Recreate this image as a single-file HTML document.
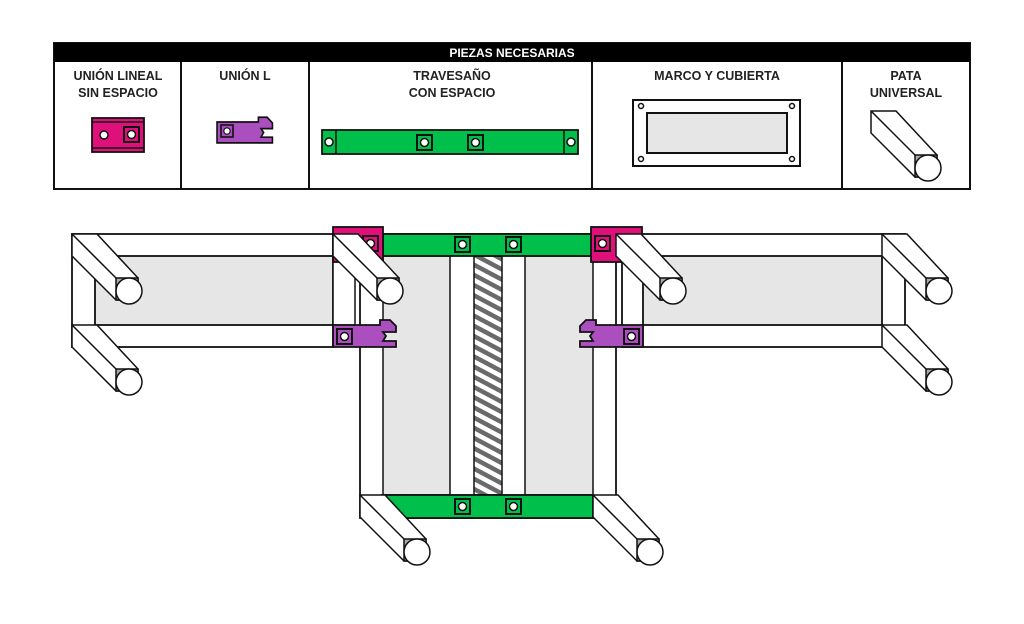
<!DOCTYPE html>
<html><head><meta charset="utf-8"><style>
html,body{margin:0;padding:0;background:#fff;}
svg{display:block;}
text{font-family:"Liberation Sans",sans-serif;font-weight:bold;font-size:12.5px;fill:#222;}
</style></head><body>
<svg width="1024" height="624" viewBox="0 0 1024 624" xmlns="http://www.w3.org/2000/svg">
<defs>
<pattern id="h" width="9" height="9" patternUnits="userSpaceOnUse" patternTransform="rotate(28)">
<rect width="9" height="9" fill="#fff"/><rect width="9" height="4.5" fill="#6a6a6a"/>
</pattern>
<g id="leg">
<polygon points="0,0 25,0 66,44 66,66 44,66 0,22" fill="#fff" stroke="#111" stroke-width="1.5"/>
<line x1="0" y1="0" x2="44" y2="44" stroke="#111" stroke-width="1.5"/>
<rect x="44" y="44" width="22" height="22" fill="#aaa" stroke="#111" stroke-width="1.5"/>
<circle cx="57" cy="57" r="13" fill="#fff" stroke="#111" stroke-width="1.5"/>
</g>
<g id="sq"><rect x="0" y="0" width="15" height="15" fill="none" stroke="#111" stroke-width="2"/><circle cx="7.5" cy="7.5" r="4" fill="#fff" stroke="#111" stroke-width="1.5"/></g>
<g id="lp"><path d="M0,0 H47 V-5 H57 L63,1 V7 H50 L53,11 L50,16 H63 V22 H0 Z" fill="#aa4fbd" stroke="#111" stroke-width="1.8"/></g>
</defs>
<!-- table -->
<rect x="54" y="43" width="916" height="146" fill="#fff" stroke="#111" stroke-width="2"/>
<rect x="54" y="43" width="916" height="19" fill="#000"/>
<text x="512" y="57" text-anchor="middle" style="fill:#fff;font-size:12px">PIEZAS NECESARIAS</text>
<g stroke="#111" stroke-width="2"><line x1="181" y1="62" x2="181" y2="189"/><line x1="309" y1="62" x2="309" y2="189"/><line x1="592" y1="62" x2="592" y2="189"/><line x1="842" y1="62" x2="842" y2="189"/></g>
<text x="118" y="80" text-anchor="middle">UNIÓN LINEAL</text>
<text x="118" y="97" text-anchor="middle">SIN ESPACIO</text>
<text x="245" y="80" text-anchor="middle">UNIÓN L</text>
<text x="452" y="80" text-anchor="middle">TRAVESAÑO</text>
<text x="452" y="97" text-anchor="middle">CON ESPACIO</text>
<text x="717" y="80" text-anchor="middle">MARCO Y CUBIERTA</text>
<text x="906" y="80" text-anchor="middle">PATA</text>
<text x="906" y="97" text-anchor="middle">UNIVERSAL</text>
<!-- magenta piece -->
<rect x="92" y="118" width="52" height="34" fill="#e0107a" stroke="#111" stroke-width="1.8"/>
<line x1="92" y1="122" x2="144" y2="122" stroke="#111" stroke-width="1.5"/><line x1="92" y1="148" x2="144" y2="148" stroke="#111" stroke-width="1.5"/>
<circle cx="104" cy="135" r="4" fill="#fff" stroke="#111" stroke-width="1.5"/>
<use href="#sq" x="124" y="127"/>
<!-- purple piece -->
<g transform="translate(217,122) scale(0.88,0.95)"><use href="#lp"/></g>
<use href="#sq" x="221" y="125" transform="translate(221,125) scale(0.8) translate(-221,-125)"/>
<!-- green piece -->
<rect x="322" y="130" width="256" height="24" fill="#00c04b" stroke="#111" stroke-width="1.8"/>
<line x1="336" y1="130" x2="336" y2="154" stroke="#111" stroke-width="1.5"/><line x1="564" y1="130" x2="564" y2="154" stroke="#111" stroke-width="1.5"/>
<circle cx="329" cy="142" r="4" fill="#fff" stroke="#111" stroke-width="1.5"/><circle cx="571" cy="142" r="4" fill="#fff" stroke="#111" stroke-width="1.5"/>
<use href="#sq" x="417" y="135"/><use href="#sq" x="468" y="135"/>
<!-- marco -->
<rect x="633" y="100" width="167" height="66" fill="#fff" stroke="#111" stroke-width="2"/>
<rect x="647" y="113" width="140" height="40" fill="#e6e6e6" stroke="#111" stroke-width="2"/>
<g fill="#fff" stroke="#111" stroke-width="1.5"><circle cx="641" cy="106" r="2.5"/><circle cx="792" cy="106" r="2.5"/><circle cx="641" cy="159" r="2.5"/><circle cx="792" cy="159" r="2.5"/></g>
<use href="#leg" x="871" y="111"/>
<!-- left frame -->
<rect x="72" y="234" width="261" height="113" fill="#fff" stroke="#111" stroke-width="1.8"/>
<rect x="95" y="256" width="238" height="69" fill="#e6e6e6" stroke="#111" stroke-width="1.8"/>
<rect x="333" y="256" width="22" height="69" fill="#fff" stroke="#111" stroke-width="1.5"/>
<!-- right frame -->
<rect x="622" y="234" width="283" height="113" fill="#fff" stroke="#111" stroke-width="1.8"/>
<rect x="643" y="256" width="239" height="69" fill="#e6e6e6" stroke="#111" stroke-width="1.8"/>
<line x1="643" y1="325" x2="643" y2="347" stroke="#111" stroke-width="1.5"/>
<!-- central frame -->
<rect x="360" y="234" width="256" height="284" fill="#fff" stroke="#111" stroke-width="1.8"/>
<rect x="383" y="256" width="67" height="239" fill="#e6e6e6" stroke="#111" stroke-width="1.5"/>
<rect x="525" y="256" width="68" height="239" fill="#e6e6e6" stroke="#111" stroke-width="1.5"/>
<rect x="474" y="256" width="28" height="239" fill="url(#h)" stroke="#111" stroke-width="1.5"/>
<line x1="383" y1="495" x2="593" y2="495" stroke="#111" stroke-width="1.5"/>
<rect x="383" y="234" width="210" height="22" fill="#00c04b" stroke="#111" stroke-width="1.8"/>
<use href="#sq" x="455" y="237"/><use href="#sq" x="506" y="237"/>
<polygon points="383,495 593,495 593,518 406,518" fill="#00c04b" stroke="#111" stroke-width="1.8"/>
<use href="#sq" x="455" y="499"/><use href="#sq" x="506" y="499"/>
<!-- magenta joins -->
<rect x="333" y="227" width="50" height="35" fill="#e0107a" stroke="#111" stroke-width="1.8"/>
<use href="#sq" x="363" y="236"/>
<rect x="591" y="227" width="51" height="35" fill="#e0107a" stroke="#111" stroke-width="1.8"/>
<use href="#sq" x="595" y="236"/>
<!-- purple joins -->
<use href="#lp" x="333" y="325"/>
<use href="#sq" x="337" y="329"/>
<g transform="translate(643,325) scale(-1,1)"><use href="#lp"/></g>
<use href="#sq" x="624" y="329"/>
<!-- legs -->
<use href="#leg" x="72" y="234"/>
<use href="#leg" x="72" y="325"/>
<use href="#leg" x="333" y="234"/>
<use href="#leg" x="616" y="234"/>
<use href="#leg" x="882" y="234"/>
<use href="#leg" x="882" y="325"/>
<use href="#leg" x="360" y="495"/>
<use href="#leg" x="593" y="495"/>
</svg>
</body></html>
